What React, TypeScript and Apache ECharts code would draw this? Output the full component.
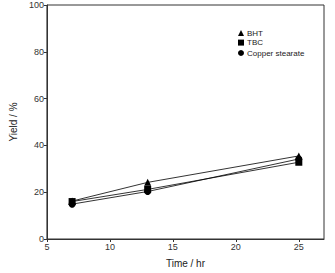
import React, { useEffect, useRef } from "react";
import * as echarts from "echarts";

const times = [7, 13, 25];
const bht = [16.2, 24.2, 35.5];
const tbc = [16.0, 21.2, 32.8];
const copper = [14.9, 20.3, 34.2];
const seriesNames = ["BHT", "TBC", "Copper stearate"];
const symbols = ["triangle", "rect", "circle"];

export default function App() {
  const ref = useRef<HTMLDivElement>(null);
  useEffect(() => {
    if (!ref.current) return;
    const chart = echarts.init(ref.current, undefined, { renderer: "svg" });
    const font = "Liberation Sans, Arial, sans-serif";
    const values = [bht, tbc, copper];
    const legendBase = {
      orient: "vertical",
      left: 233,
      padding: 5,
      itemWidth: 6,
      itemHeight: 6,
      itemGap: 1.6,
      textStyle: { fontSize: 8, color: "#222", fontFamily: font, padding: [0, 0, 0, -2] },
    };
    chart.setOption({
      animation: false,
      textStyle: { fontFamily: font },
      grid: {
        left: 32.5,
        top: 5,
        right: 11,
        bottom: 27,
        containLabel: false,
        show: true,
        borderColor: "#333",
        borderWidth: 1,
      },
      legend: [
        {
          ...legendBase,
          top: 24,
          data: seriesNames.slice(0, 2).map((n, i) => ({ name: n, icon: symbols[i] })),
        },
        {
          ...legendBase,
          top: 44,
          data: [{ name: seriesNames[2], icon: symbols[2] }],
        },
      ],
      xAxis: {
        type: "value",
        min: 5,
        max: 27,
        interval: 5,
        name: "Time / hr",
        nameLocation: "middle",
        nameGap: 19,
        nameTextStyle: { fontSize: 10, color: "#222", fontFamily: font },
        axisLine: { show: true, lineStyle: { color: "#333", width: 1 } },
        axisTick: { show: true, inside: false, length: 3, lineStyle: { color: "#333" } },
        axisLabel: { fontSize: 9, color: "#333", margin: 3, showMaxLabel: false, fontFamily: font },
        splitLine: { show: false },
      },
      yAxis: {
        type: "value",
        min: 0,
        max: 100,
        interval: 20,
        name: "Yield / %",
        nameLocation: "middle",
        nameGap: 22,
        nameTextStyle: { fontSize: 10, color: "#222", fontFamily: font },
        axisLine: { show: true, lineStyle: { color: "#333", width: 1 } },
        axisTick: { show: true, inside: false, length: 3, lineStyle: { color: "#333" } },
        axisLabel: { fontSize: 9, color: "#333", margin: 3, fontFamily: font },
        splitLine: { show: false },
      },
      series: seriesNames.map((n, i) => ({
        name: n,
        type: "line",
        data: times.map((t, j) => [t, values[i][j]]),
        symbol: symbols[i],
        symbolSize: 7,
        itemStyle: { color: "#000" },
        lineStyle: { color: "#000", width: 0.8 },
      })),
    });
    return () => chart.dispose();
  }, []);
  return <div ref={ref} style={{ width: 335, height: 273, position: "absolute", left: 0, top: 0 }} />;
}
